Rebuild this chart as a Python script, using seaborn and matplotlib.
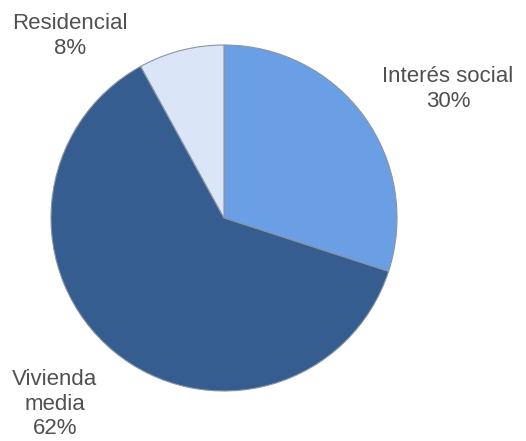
import matplotlib
matplotlib.use("Agg")
import matplotlib.pyplot as plt
import seaborn as sns

categories = ["Interés social", "Vivienda media", "Residencial"]
values = [30, 62, 8]
label_texts = ["Interés social\n30%", "Vivienda\nmedia\n62%", "Residencial\n8%"]
colors = ["#6a9fe6", "#365d8f", "#dbe5f8"]

sns.set_theme(style="white")
plt.rcParams['font.family'] = ['Liberation Sans', 'DejaVu Sans']

fig = plt.figure(figsize=(5.26, 4.41), dpi=100)
ax = fig.add_axes([0, 0, 1, 1])

cx, cy, r = 224, 441 - 218, 173
wedges, _ = ax.pie(values, colors=colors, startangle=90, counterclock=False,
                   center=(cx, cy), radius=r, frame=True,
                   wedgeprops=dict(edgecolor="#8a94a3", linewidth=0.8))
ax.set_xlim(0, 526)
ax.set_ylim(0, 441)
ax.set_aspect('equal')
ax.axis('off')

label_pos = [(448, 441 - 89), (55, 441 - 404), (70, 441 - 36)]
for txt, (x, y) in zip(label_texts, label_pos):
    ax.text(x, y, txt, ha='center', va='center', fontsize=16,
            color='#505050', linespacing=1.22)

fig.savefig("out.png", dpi=100)
